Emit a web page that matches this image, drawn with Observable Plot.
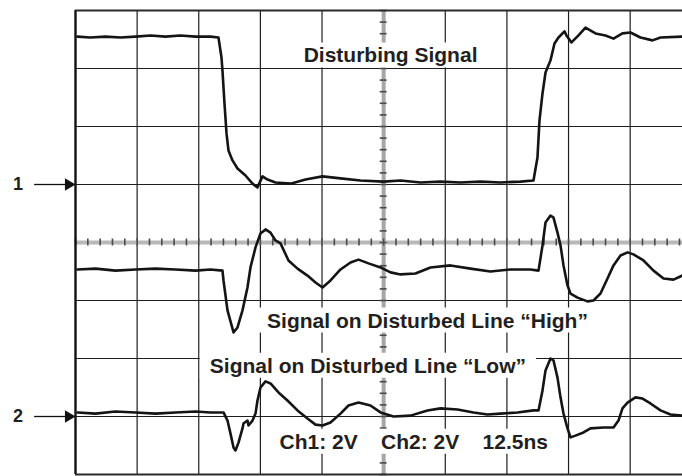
<!DOCTYPE html>
<html>
<head>
<meta charset="utf-8">
<script src="https://cdn.jsdelivr.net/npm/d3@7"></script>
<script src="https://cdn.jsdelivr.net/npm/@observablehq/plot@0.6"></script>
<style>
  html, body { margin: 0; padding: 0; background: #fff; overflow: hidden; }
  #chart { width: 682px; height: 476px; }
</style>
</head>
<body>
<div id="chart"></div>
<script>
// ---- Channel 1: disturbing signal (time in ns, level in V) ----
const ch1Time = [0.41, 3.04, 6.08, 9.13, 12.17, 15.21, 18.25, 21.30, 24.34, 27.38, 29.00, 29.61, 29.81, 30.22, 30.63, 31.03, 31.84, 32.86, 34.48, 35.90, 36.91, 37.93, 38.94, 40.56, 43.61, 46.65, 50.10, 53.75, 57.80, 62.47, 65.92, 69.97, 74.03, 78.09, 82.14, 86.20, 90.25, 92.89, 93.70, 94.11, 94.72, 95.33, 96.34, 97.15, 97.96, 99.18, 99.58, 100.60, 102.02, 103.44, 105.47, 107.49, 109.12, 110.94, 112.56, 114.59, 117.03, 118.65, 123.11];
const ch1Volts = [5.10, 5.07, 5.10, 5.07, 5.10, 5.14, 5.10, 5.14, 5.10, 5.10, 5.07, 4.38, 3.93, 2.79, 1.76, 1.17, 0.83, 0.55, 0.31, 0.03, -0.10, 0.28, 0.17, 0.07, 0.03, 0.17, 0.28, 0.21, 0.14, 0.10, 0.14, 0.07, 0.10, 0.07, 0.10, 0.07, 0.10, 0.14, 0.93, 2.21, 3.14, 3.86, 4.28, 4.86, 5.07, 5.28, 5.14, 4.90, 5.14, 5.41, 5.21, 5.14, 5.03, 5.21, 5.24, 5.07, 4.97, 5.07, 5.10];

// ---- Channel 2: disturbed line held "High" ----
const highTime = [0.41, 4.06, 8.11, 12.17, 16.23, 20.28, 24.34, 27.38, 29.81, 30.02, 30.83, 32.05, 32.86, 33.87, 34.88, 35.49, 36.51, 37.52, 38.54, 39.55, 40.56, 41.58, 43.20, 45.03, 47.05, 48.68, 50.10, 51.72, 53.75, 55.78, 57.40, 59.43, 61.86, 63.89, 65.92, 68.96, 72.00, 76.06, 80.11, 84.17, 88.23, 92.28, 93.91, 94.72, 95.33, 96.34, 96.95, 97.76, 98.37, 98.98, 99.79, 100.40, 101.82, 103.84, 105.06, 106.48, 107.90, 109.12, 110.54, 111.96, 113.17, 115.20, 117.23, 119.26, 121.28, 123.11];
const highVolts = [5.07, 5.10, 5.03, 5.07, 5.10, 5.07, 5.03, 5.07, 5.03, 4.69, 3.66, 2.90, 3.07, 3.66, 4.45, 5.14, 5.83, 6.31, 6.45, 6.34, 6.07, 5.97, 5.38, 5.10, 4.86, 4.62, 4.45, 4.69, 5.07, 5.31, 5.41, 5.28, 5.14, 4.97, 4.90, 4.93, 5.14, 5.21, 5.10, 5.00, 5.07, 5.07, 5.03, 5.90, 6.69, 6.93, 6.86, 6.34, 5.90, 5.21, 4.52, 4.24, 4.10, 3.97, 4.00, 4.24, 4.76, 5.21, 5.55, 5.66, 5.59, 5.38, 5.03, 4.76, 4.72, 4.86];

// ---- Channel 2: disturbed line held "Low" ----
const lowTime = [0.41, 4.06, 8.11, 12.17, 16.23, 20.28, 24.34, 27.38, 30.02, 30.83, 31.44, 32.05, 32.45, 33.06, 33.87, 34.07, 34.88, 35.09, 35.90, 36.51, 36.91, 37.52, 38.54, 39.55, 41.17, 42.99, 45.03, 47.05, 48.68, 50.10, 51.72, 53.75, 55.37, 57.40, 59.83, 61.86, 64.50, 67.94, 71.39, 74.03, 77.48, 80.72, 83.56, 86.20, 89.65, 92.89, 93.91, 94.72, 95.33, 96.34, 96.95, 97.76, 98.37, 98.98, 99.79, 100.40, 101.41, 103.03, 104.45, 107.09, 109.12, 110.13, 110.94, 111.96, 113.57, 115.00, 116.62, 118.65, 120.68, 123.11];
const lowVolts = [0.14, 0.10, 0.17, 0.14, 0.10, 0.14, 0.17, 0.14, 0.14, -0.14, -0.59, -1.07, -1.17, -0.90, -0.41, -0.24, -0.14, -0.31, -0.14, 0.10, 0.55, 1.00, 1.21, 1.14, 0.83, 0.55, 0.21, -0.07, -0.28, -0.31, -0.21, 0.10, 0.38, 0.48, 0.38, 0.14, 0.00, 0.03, 0.21, 0.28, 0.24, 0.14, 0.07, 0.10, 0.14, 0.21, 0.21, 0.90, 1.59, 2.00, 1.93, 1.34, 0.66, 0.10, -0.41, -0.72, -0.66, -0.55, -0.41, -0.38, -0.38, -0.14, 0.28, 0.48, 0.66, 0.62, 0.45, 0.21, 0.07, 0.03];

// ---- scope settings ----
const channelNames = ["1", "2"];
const channelOffsetDiv = [1, -3];   // ground markers, in divisions
const voltsPerDiv = [2, 2];
const nsPerDiv = 12.5;

// ---- annotation texts ----
const labelTexts = [
  "Disturbing Signal",
  "Signal on Disturbed Line \u201CHigh\u201D",
  "Signal on Disturbed Line \u201CLow\u201D",
  "Ch1: 2V\u00a0\u00a0\u00a0\u00a0Ch2: 2V\u00a0\u00a0\u00a0\u00a012.5ns"
];
const labelTime = [63.9, 71.4, 59.3, 68.6];
const labelDiv = [3.22, -1.35, -2.13, -3.44];

// ---- tables ----
const ch1 = ch1Time.map((t, i) => ({t, v: ch1Volts[i]}));
const high = highTime.map((t, i) => ({t, v: highVolts[i]}));
const low = lowTime.map((t, i) => ({t, v: lowVolts[i]}));
const markers = channelNames.map((name, i) => ({name, off: channelOffsetDiv[i]}));
const notes = labelTexts.map((text, i) => ({text, t: labelTime[i], d: labelDiv[i]}));

const toDiv1 = d => d.v / voltsPerDiv[0] + channelOffsetDiv[0];
const toDiv2 = d => d.v / voltsPerDiv[1] + channelOffsetDiv[1];

const majorX = d3.range(0, 11).map(k => k * nsPerDiv);
const majorY = d3.range(-4, 5);
const centerT = 5 * nsPerDiv;
const minorX = d3.range(0, 51).map(k => k * nsPerDiv / 5);
const minorY = d3.range(-20, 21).map(k => k / 5);

const ink = "#231f20";

const plot = Plot.plot({
  width: 682,
  height: 476,
  marginLeft: 75,
  marginTop: 10,
  marginBottom: 2,
  marginRight: 0,
  x: {domain: [0, 10 * nsPerDiv], range: [75, 691.3], axis: null},
  y: {domain: [-4, 4], range: [474, 10], axis: null},
  style: {background: "white", fontFamily: "'Liberation Sans', Arial, Helvetica, sans-serif"},
  marks: [
    // graticule
    Plot.ruleX(majorX.filter(x => x !== centerT && x !== 0), {stroke: "#1e1e1e", strokeWidth: 1.2}),
    Plot.ruleY(majorY.filter(y => y !== 0 && Math.abs(y) !== 4), {stroke: "#1e1e1e", strokeWidth: 1.2}),
    Plot.ruleX([centerT], {stroke: "#a6a6a6", strokeWidth: 4}),
    Plot.ruleY([0], {stroke: "#b8b8b8", strokeWidth: 4}),
    Plot.ruleX(minorX, {x: d => d, y1: -0.06, y2: 0.06, stroke: "#4a4a4a", strokeWidth: 1.6}),
    Plot.ruleY(minorY, {y: d => d, x1: centerT - 0.7, x2: centerT + 0.7, stroke: "#4a4a4a", strokeWidth: 1.6}),
    Plot.ruleX([0], {stroke: "#111", strokeWidth: 2.4}),
    Plot.ruleY([-4, 4], {stroke: "#2a2a2a", strokeWidth: 2.2}),
    // channel ground markers
    Plot.link(markers, {x1: -8.4, x2: -2, y1: "off", y2: "off", stroke: "#111", strokeWidth: 1.3}),
    Plot.dot(markers, {x: 0, y: "off", symbol: "triangle", rotate: 90, r: 4.6, fill: "#111", stroke: "none", dx: -7}),
    Plot.text(markers, {x: 0, y: "off", text: "name", dx: -57.5, fontSize: 18, fontWeight: "bold", fill: ink}),
    // annotations
    Plot.text(notes, {x: "t", y: "d", text: "text", fontSize: 21, fontWeight: "bold", fill: ink}),
    // traces
    Plot.line(ch1, {x: "t", y: toDiv1, stroke: "#141414", strokeWidth: 2.6}),
    Plot.line(high, {x: "t", y: toDiv2, stroke: "#141414", strokeWidth: 2.6}),
    Plot.line(low, {x: "t", y: toDiv2, stroke: "#141414", strokeWidth: 2.6})
  ]
});

document.getElementById("chart").append(plot);

// white boxes behind the annotation texts
const noteSet = new Set(labelTexts);
plot.querySelectorAll("text").forEach(el => {
  if (!noteSet.has(el.textContent)) return;
  const b = el.getBBox();
  const r = document.createElementNS("http://www.w3.org/2000/svg", "rect");
  r.setAttribute("x", b.x - 10);
  r.setAttribute("y", b.y - 1);
  r.setAttribute("width", b.width + 20);
  r.setAttribute("height", b.height + 2);
  r.setAttribute("fill", "white");
  r.setAttribute("stroke", "none");
  const tr = el.getAttribute("transform");
  if (tr) r.setAttribute("transform", tr);
  el.parentNode.insertBefore(r, el);
});
</script>
</body>
</html>
